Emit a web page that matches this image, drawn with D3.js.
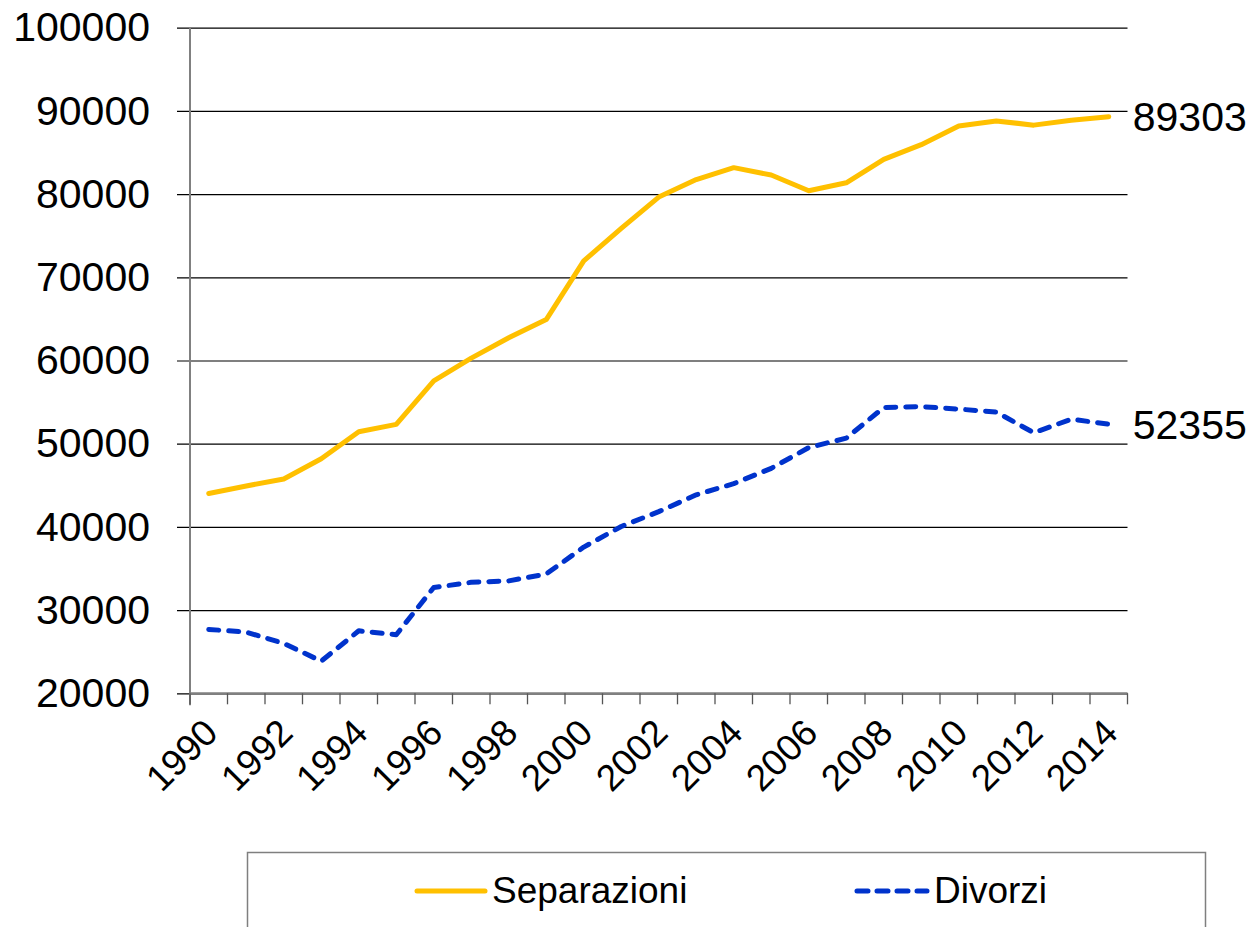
<!DOCTYPE html>
<html>
<head>
<meta charset="utf-8">
<script src="https://cdn.jsdelivr.net/npm/d3@7"></script>
<style>
  body { margin: 0; background: #fff; }
  svg { display: block; font-family: "Liberation Sans", Arial, sans-serif; }
</style>
</head>
<body>
<svg id="chart" width="1255" height="927"></svg>
<script>
const years = [1990, 1991, 1992, 1993, 1994, 1995, 1996, 1997, 1998, 1999, 2000, 2001, 2002,
    2003, 2004, 2005, 2006, 2007, 2008, 2009, 2010, 2011, 2012, 2013, 2014];

const separazioni = [44018, 44920, 45754, 48198, 51445, 52323, 57538, 60281, 62737, 64915, 71969,
    75890, 79642, 81744, 83179, 82291, 80407, 81359, 84165, 85945, 88191, 88797, 88288, 88886, 89303];

const divorzi = [27682, 27350, 26000, 23863, 27510, 27038, 32717, 33342, 33510, 34341, 37573,
    40051, 41835, 43856, 45200, 47036, 49534, 50669, 54351, 54456, 54160, 53806, 51319, 52943, 52355];

const yTicks = [20000, 30000, 40000, 50000, 60000, 70000, 80000, 90000, 100000];

const seriesNames = ['Separazioni', 'Divorzi'];

const svg = d3.select('#chart');

const plotLeft = 190, plotRight = 1127.5, plotTop = 27.7, plotBottom = 693.3;

const x = d3.scaleBand().domain(years).range([plotLeft, plotRight]);
const y = d3.scaleLinear().domain([20000, 100000]).range([plotBottom, plotTop]);
const cx = d => x(d) + x.bandwidth() / 2;

// gridlines + y labels
const yAxis = svg.append('g')
    .attr('transform', `translate(${plotLeft},0)`)
    .call(d3.axisLeft(y).tickValues(yTicks).tickSize(-(plotRight - plotLeft)).tickSizeOuter(0).tickPadding(40).tickFormat(d3.format('d')));

yAxis.select('.domain').remove();
yAxis.selectAll('.tick line')
    .attr('x1', -13)
    .attr('stroke', '#000')
    .attr('stroke-width', 1.2);
yAxis.selectAll('.tick text')
    .attr('font-size', 41)
    .attr('fill', '#000')
    .attr('font-family', '"Liberation Sans", Arial, sans-serif');

// vertical axis line
svg.append('line')
    .attr('x1', plotLeft).attr('x2', plotLeft)
    .attr('y1', plotTop).attr('y2', plotBottom + 12)
    .attr('stroke', '#808080').attr('stroke-width', 2);

// x axis line and boundary ticks
svg.append('line')
    .attr('x1', plotLeft).attr('x2', plotRight)
    .attr('y1', plotBottom).attr('y2', plotBottom)
    .attr('stroke', '#808080').attr('stroke-width', 2);

const boundaries = years.map(d => x(d)).concat([plotRight]);
svg.append('g')
    .selectAll('line')
    .data(boundaries)
    .enter()
    .append('line')
    .attr('x1', d => d).attr('x2', d => d)
    .attr('y1', plotBottom).attr('y2', plotBottom + 11)
    .attr('stroke', '#555').attr('stroke-width', 1.3);

// x labels every two years
svg.append('g')
    .selectAll('text')
    .data(years.filter((d, i) => i % 2 === 0))
    .enter()
    .append('text')
    .attr('transform', d => `translate(${cx(d) + 11},735) rotate(-45)`)
    .attr('text-anchor', 'end')
    .attr('font-size', 37)
    .text(d => d);

// lines
const line = d3.line()
    .x((d, i) => cx(years[i]))
    .y(d => y(d));

svg.append('path')
    .datum(separazioni)
    .attr('d', line)
    .attr('fill', 'none')
    .attr('stroke', '#FFC000')
    .attr('stroke-width', 5)
    .attr('stroke-linejoin', 'round')
    .attr('stroke-linecap', 'round');

svg.append('path')
    .datum(divorzi)
    .attr('d', line)
    .attr('fill', 'none')
    .attr('stroke', '#0033CC')
    .attr('stroke-width', 5)
    .attr('stroke-dasharray', '10,10')
    .attr('stroke-linejoin', 'round')
    .attr('stroke-linecap', 'round');

// end labels
const last = years.length - 1;
[separazioni, divorzi].forEach(s => {
    svg.append('text')
        .attr('x', cx(years[last]) + 24)
        .attr('y', y(s[last]))
        .attr('dy', '0.358em')
        .attr('font-size', 41)
        .text(s[last]);
});

// legend
const legend = svg.append('g');
legend.append('rect')
    .attr('x', 247.5).attr('y', 852.5)
    .attr('width', 958).attr('height', 120)
    .attr('fill', 'none')
    .attr('stroke', '#7f7f7f').attr('stroke-width', 1.5);

legend.append('line')
    .attr('x1', 417).attr('x2', 485)
    .attr('y1', 891).attr('y2', 891)
    .attr('stroke', '#FFC000').attr('stroke-width', 5).attr('stroke-linecap', 'round');

legend.append('text')
    .attr('x', 492).attr('y', 903)
    .attr('font-size', 37)
    .text(seriesNames[0]);

legend.append('line')
    .attr('x1', 857).attr('x2', 927)
    .attr('y1', 891).attr('y2', 891)
    .attr('stroke', '#0033CC').attr('stroke-width', 5)
    .attr('stroke-dasharray', '11,9').attr('stroke-linecap', 'round');

legend.append('text')
    .attr('x', 934).attr('y', 903)
    .attr('font-size', 37)
    .text(seriesNames[1]);
</script>
</body>
</html>
